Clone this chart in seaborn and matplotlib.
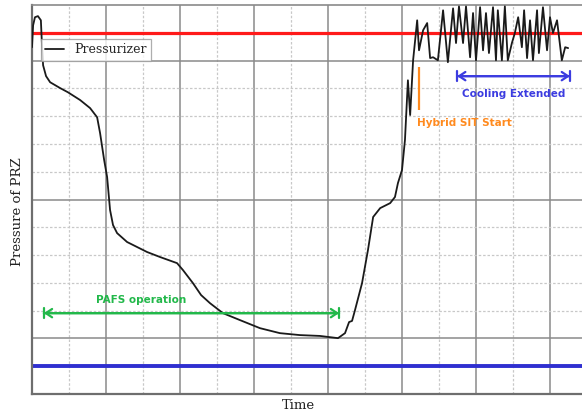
import numpy as np
import pandas as pd
import matplotlib
matplotlib.use("Agg")
import matplotlib.pyplot as plt
import seaborn as sns

# ---- data (arbitrary units) ----
time = [0.0, 0.03, 0.08, 0.16, 0.24, 0.27, 0.30, 0.38, 0.49, 0.76, 0.97, 1.30, 1.57, 1.76,
        1.84, 1.95, 2.03, 2.11, 2.19, 2.30, 2.57, 3.11, 3.46, 3.92, 4.08, 4.35, 4.57, 4.81,
        5.16, 5.62, 6.16, 6.70, 7.24, 7.78, 8.27, 8.46, 8.57, 8.65, 8.73, 8.92, 9.08, 9.22,
        9.41, 9.68, 9.81, 9.89, 10.0, 10.08, 10.16, 10.22, 10.30, 10.41,
        10.46, 10.57, 10.68, 10.76, 10.84, 10.97, 11.11, 11.24, 11.38, 11.46, 11.54, 11.65,
        11.73, 11.84, 11.92, 12.0, 12.11, 12.19, 12.27, 12.35, 12.46, 12.54, 12.59, 12.70,
        12.78, 12.86, 12.97, 13.05, 13.14, 13.24, 13.30, 13.38, 13.46, 13.54, 13.65, 13.70,
        13.81, 13.92, 14.0, 14.08, 14.19, 14.32, 14.41, 14.49]
pressure = [12.48, 13.27, 13.56, 13.6, 13.45, 12.55, 11.83, 11.44, 11.22, 11.01, 10.86, 10.58,
            10.29, 9.96, 9.39, 8.42, 7.81, 6.62, 6.08, 5.79, 5.47, 5.11, 4.93, 4.71, 4.46,
            3.99, 3.56, 3.27, 2.91, 2.66, 2.37, 2.19, 2.12, 2.09, 2.01, 2.19, 2.59, 2.63,
            3.02, 3.99, 5.18, 6.37, 6.69, 6.87, 7.09, 7.59, 8.06, 9.14, 11.29, 10.04, 12.01,
            13.45,
            12.37, 13.09, 13.35, 12.09, 12.12, 12.01, 13.81, 11.94, 13.88, 12.63, 13.95, 12.63,
            13.95, 12.12, 13.71, 12.01, 13.92, 12.37, 13.71, 12.27, 13.92, 12.01, 13.81, 12.01,
            13.95, 12.01, 12.63, 12.99, 13.56, 12.48, 13.81, 12.09, 13.45, 12.01, 13.81, 12.27,
            13.92, 12.37, 13.56, 12.99, 13.45, 12.01, 12.48, 12.45]

upper_limit = 13.0
lower_limit = 1.0
pafs_range = (0.32, 8.30)
pafs_level = 2.91
hybrid_sit_time = 10.46
hybrid_sit_span = (10.22, 11.76)
cooling_range = (11.49, 14.54)
cooling_level = 11.44

df = pd.DataFrame({"Time": time, "Pressure": pressure})

sns.set_style("white")
fig = plt.figure(figsize=(5.82, 4.16), dpi=100)
ax = fig.add_axes([32 / 582, 22 / 416, 555 / 582, 389 / 416])

sns.lineplot(data=df, x="Time", y="Pressure", sort=False, estimator=None,
             color="#1a1a1a", lw=1.3, ax=ax, label="Pressurizer", zorder=3)

ax.set_xlim(0, 15)
ax.set_ylim(0, 14)
ax.set_xticks(np.arange(0, 15, 2))
ax.set_xticks(np.arange(1, 15, 2), minor=True)
ax.set_yticks([2, 7, 12])
ax.set_yticks([1, 3, 4, 5, 6, 8, 9, 10, 11, 13], minor=True)
ax.grid(True, which="major", color="#8a8a8a", lw=1.1, ls="-", zorder=0)
ax.grid(True, which="minor", color="#c8c8c8", lw=0.9, ls=(0, (2, 1.5)), zorder=0)
ax.tick_params(which="both", length=0, labelbottom=False, labelleft=False)
ax.set_axisbelow(True)

for side in ["left", "bottom"]:
    ax.spines[side].set_color("#6e6e6e")
    ax.spines[side].set_linewidth(1.6)
ax.spines["top"].set_color("#8a8a8a")
ax.spines["top"].set_linewidth(1.2)
ax.spines["right"].set_visible(False)

ax.axhline(upper_limit, color="#ff1a1a", lw=2.3, zorder=2)
ax.axhline(lower_limit, color="#2f2fd0", lw=2.8, zorder=2)

ax.set_xlabel("Time", family="DejaVu Serif", fontsize=9.5, color="#222222")
ax.set_ylabel("Pressure of PRZ", family="DejaVu Serif", fontsize=9.5, color="#222222")
ax.xaxis.set_label_coords((298 - 32) / 555, -5 / 389)
ax.yaxis.set_label_coords(-8 / 555, (394 - 212) / 389)

leg = ax.legend(loc="upper left", bbox_to_anchor=(0.016, 0.913), borderaxespad=0,
                frameon=True, fancybox=False, handlelength=1.5, handletextpad=0.8,
                borderpad=0.35, prop={"family": "DejaVu Serif", "size": 9})
leg.get_frame().set_edgecolor("#9a9a9a")
leg.get_frame().set_linewidth(0.9)
leg.set_zorder(5)

font_ann = dict(fontsize=7.5, fontweight="bold", family="DejaVu Sans")

green = "#22b84a"
ax.annotate("", xy=(pafs_range[1], pafs_level), xytext=(pafs_range[0], pafs_level),
            arrowprops=dict(arrowstyle="|-|,widthA=0.35,widthB=0.35", color=green, lw=1.6,
                            shrinkA=0, shrinkB=0), zorder=4)
ax.annotate("", xy=(pafs_range[1], pafs_level), xytext=(pafs_range[0], pafs_level),
            arrowprops=dict(arrowstyle="<->,head_length=0.45,head_width=0.3", color=green, lw=1.6,
                            shrinkA=0, shrinkB=0), zorder=4)
ax.text(2.95, 3.40, "PAFS operation", color=green, ha="center", va="center", **font_ann)

orange = "#ff8a1e"
ax.vlines(hybrid_sit_time, hybrid_sit_span[0], hybrid_sit_span[1], color=orange, lw=1.6, zorder=4)
ax.text(10.41, 9.75, "Hybrid SIT Start", color=orange, ha="left", va="center", **font_ann)

blue = "#3c3ce0"
ax.annotate("", xy=(cooling_range[1], cooling_level), xytext=(cooling_range[0], cooling_level),
            arrowprops=dict(arrowstyle="|-|,widthA=0.35,widthB=0.35", color=blue, lw=1.6,
                            shrinkA=0, shrinkB=0), zorder=4)
ax.annotate("", xy=(cooling_range[1], cooling_level), xytext=(cooling_range[0], cooling_level),
            arrowprops=dict(arrowstyle="<->,head_length=0.45,head_width=0.3", color=blue, lw=1.6,
                            shrinkA=0, shrinkB=0), zorder=4)
ax.text(13.03, 10.79, "Cooling Extended", color=blue, ha="center", va="center", **font_ann)

fig.savefig("out.png", dpi=100)
